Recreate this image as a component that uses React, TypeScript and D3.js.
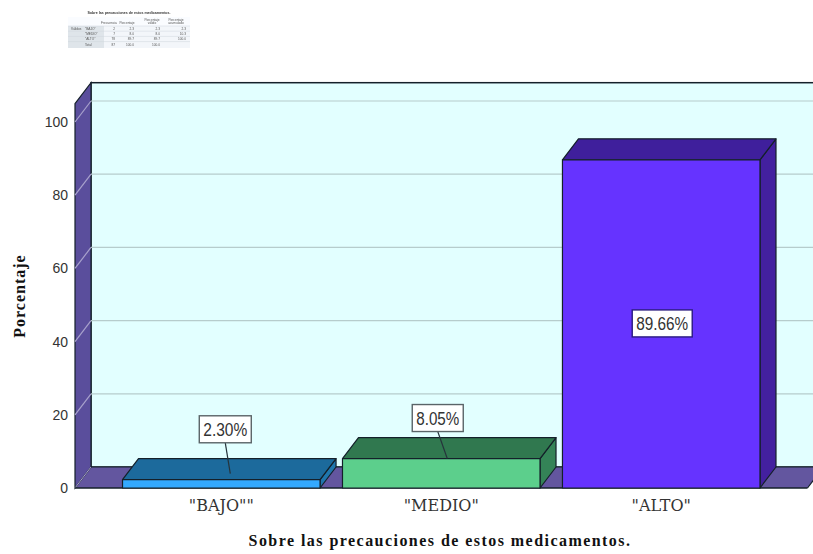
import React from "react";
import * as d3 from "d3";

// Frequency summary shown above the chart
const tableTitle = "Sobre las precauciones de estos medicamentos.";
const tableHeaders = [["Frecuencia"], ["Porcentaje"], ["Porcentaje", "válido"], ["Porcentaje", "acumulado"]];
const tableRows = ['"BAJO"', '"MEDIO"', '"ALTO"', "Total"];
const tableFrequency = ["2", "7", "78", "87"];
const tablePercent = ["2.3", "8.0", "89.7", "100.0"];
const tableValid = ["2.3", "8.0", "89.7", "100.0"];
const tableCumulative = ["2.3", "10.3", "100.0", ""];

// Chart series
const categories = ['"BAJO""', '"MEDIO"', '"ALTO"'];
const percentages = [2.3, 8.05, 89.66];
const percentLabels = ["2.30%", "8.05%", "89.66%"];
const yTicks = [0, 20, 40, 60, 80, 100];

const frontColors = ["#33a9ff", "#5ccf8c", "#6633ff"];
const topColors = ["#1c6a9c", "#30784f", "#3f1f9c"];
const sideColors = ["#1f76ad", "#348357", "#43209f"];

const WIDTH = 813;
const HEIGHT = 554;
const DX = 16;
const DY = -21;
const EDGE = "#14202a";

const y = d3.scaleLinear().domain([0, 100]).range([488, 122]);
const x = d3.scaleBand<string>().domain(categories).range([75, 807.5]).paddingInner(0.102).paddingOuter(0.216);

const pts = (p: [number, number][]) => p.map((q) => q.join(",")).join(" ");

function SummaryTable() {
  const left = 68;
  const top = 17;
  const rowH = 5.2;
  const colX = [109, 127, 152, 176];
  const valueX = [115, 134, 160, 186];
  const columns = [tableFrequency, tablePercent, tableValid, tableCumulative];
  const t = { fontFamily: "Liberation Sans", fontSize: 3.2, fill: "#555" };
  return (
    <g filter="url(#soft)">
      <rect x={left} y={top} width={122} height={31} fill="#fafcff" />
      <rect x={left} y={top + 9} width={36} height={22} fill="#dfe5ea" />
      <rect x={left + 36} y={top + 9} width={86} height={22} fill="#f3f6fa" />
      <text x={129} y={14} textAnchor="middle" style={{ ...t, fontWeight: 700, fill: "#333", fontSize: 3.6 }}>
        {tableTitle}
      </text>
      {tableHeaders.map((lines, i) =>
        lines.map((h, k) => (
          <text key={h + i} x={colX[i]} y={lines.length > 1 ? 20.5 + k * 3.6 : 24} textAnchor="middle" style={t}>
            {h}
          </text>
        ))
      )}
      <text x={71} y={top + 13} style={t}>Válidos</text>
      {tableRows.map((r, i) => (
        <g key={r}>
          <text x={85} y={top + 13 + i * rowH} style={t}>{r}</text>
          {columns.map((c, j) => (
            <text key={j} x={valueX[j]} y={top + 13 + i * rowH} textAnchor="end" style={t}>
              {c[i]}
            </text>
          ))}
          <line x1={left} x2={left + 122} y1={top + 9 + i * rowH} y2={top + 9 + i * rowH} stroke="#cfd6dc" strokeWidth={0.5} />
        </g>
      ))}
    </g>
  );
}

export default function App() {
  const y0 = y(0);
  const wallTop = y(105);
  const xLeft = x.range()[0];
  const xRight = x.range()[1];

  return (
    <svg
      width={WIDTH}
      height={HEIGHT}
      viewBox={`0 0 ${WIDTH} ${HEIGHT}`}
      style={{ position: "absolute", left: 0, top: 0, background: "#fff" }}
    >
      <defs>
        <filter id="soft" x="-5%" y="-5%" width="110%" height="110%">
          <feGaussianBlur stdDeviation="0.35" />
        </filter>
      </defs>

      <SummaryTable />

      {/* Back wall, side wall and floor */}
      <rect x={xLeft + DX} y={wallTop + DY} width={WIDTH} height={y0 - wallTop} fill="#e2ffff" stroke={EDGE} strokeWidth={1.5} />
      <polygon
        points={pts([[xLeft, y0], [xLeft + DX, y0 + DY], [xRight + DX, y0 + DY], [xRight, y0]])}
        fill="#63569f"
      />
      <polygon
        points={pts([[xLeft, wallTop], [xLeft + DX, wallTop + DY], [xLeft + DX, y0 + DY], [xLeft, y0]])}
        fill="#5a4e9c"
        stroke={EDGE}
        strokeWidth={1.2}
      />

      {/* Gridlines wrap from the side wall on to the back wall */}
      {yTicks.filter((t) => t > 0).map((t) => (
        <g key={t}>
          <line x1={xLeft + DX} x2={WIDTH} y1={y(t) + DY} y2={y(t) + DY} stroke="#b6cccc" strokeWidth={1.2} />
          <line x1={xLeft} x2={xLeft + DX} y1={y(t)} y2={y(t) + DY} stroke="#a8a2cc" strokeWidth={1.2} />
        </g>
      ))}
      <line x1={xLeft} x2={xLeft + DX} y1={y0} y2={y0 + DY} stroke="#a8a2cc" strokeWidth={1} />
      <line x1={xLeft + DX} x2={WIDTH} y1={y0 + DY} y2={y0 + DY} stroke={EDGE} strokeWidth={1} />
      <line x1={xLeft} x2={xRight} y1={y0} y2={y0} stroke={EDGE} strokeWidth={1.5} />
      <line x1={xRight} x2={xRight + DX} y1={y0} y2={y0 + DY} stroke={EDGE} strokeWidth={1.2} />

      {/* Extruded bars */}
      {categories.map((c, i) => {
        const x0 = x(c)!;
        const x1 = x0 + x.bandwidth();
        const yt = y(percentages[i]);
        return (
          <g key={c} stroke={EDGE} strokeWidth={1.2} strokeLinejoin="round">
            <polygon points={pts([[x1, y0], [x1 + DX, y0 + DY], [x1 + DX, yt + DY], [x1, yt]])} fill={sideColors[i]} />
            <polygon points={pts([[x0, yt], [x0 + DX, yt + DY], [x1 + DX, yt + DY], [x1, yt]])} fill={topColors[i]} />
            <rect x={x0} y={yt} width={x1 - x0} height={y0 - yt} fill={frontColors[i]} />
          </g>
        );
      })}

      {/* Value callouts: short bars get a leader line, the tall bar holds its label */}
      {categories.map((c, i) => {
        const mid = x(c)! + x.bandwidth() / 2;
        const yt = y(percentages[i]);
        const tall = percentages[i] > 50;
        const w = tall ? 60 : i === 0 ? 52 : 51;
        const h = 27;
        const cx = tall ? mid + 1 : i === 0 ? mid + 4 : mid - 3.5;
        const cy = tall ? (y0 + yt) / 2 - 0.5 : yt - (i === 0 ? 50.3 : 40.5);
        return (
          <g key={c}>
            {!tall && (
              <line
                x1={cx}
                y1={cy + h / 2}
                x2={i === 0 ? mid + 9 : mid + 6}
                y2={i === 0 ? yt - 6 : yt}
                stroke="#26343c"
                strokeWidth={1.2}
              />
            )}
            <rect
              x={cx - w / 2}
              y={cy - h / 2}
              width={w}
              height={h}
              fill="#fff"
              stroke={tall ? "#2a1a80" : "#5a6468"}
              strokeWidth={1.4}
            />
            <text
              x={cx}
              y={cy + 6.5}
              textAnchor="middle"
              style={{ fontFamily: "Liberation Sans", fontSize: 18, fill: "#333" }}
              textLength={w - 8}
              lengthAdjust="spacingAndGlyphs"
            >
              {percentLabels[i]}
            </text>
          </g>
        );
      })}

      {/* Value axis labels */}
      {yTicks.map((t) => (
        <text
          key={t}
          x={68}
          y={y(t) + 5}
          textAnchor="end"
          style={{ fontFamily: "Liberation Sans", fontSize: 14, fill: "#333" }}
        >
          {t}
        </text>
      ))}

      {/* Category labels */}
      {categories.map((c) => (
        <text
          key={c}
          x={x(c)! + x.bandwidth() / 2}
          y={511}
          textAnchor="middle"
          style={{ fontFamily: "DejaVu Serif", fontSize: 16, fill: "#333" }}
        >
          {c}
        </text>
      ))}

      {/* Axis titles */}
      <text
        transform="translate(25,296) rotate(-90)"
        textAnchor="middle"
        style={{ fontFamily: "Liberation Serif", fontWeight: 700, fontSize: 16, letterSpacing: 1, fill: "#111" }}
      >
        Porcentaje
      </text>
      <text
        x={440}
        y={546}
        textAnchor="middle"
        style={{ fontFamily: "Liberation Serif", fontWeight: 700, fontSize: 16, letterSpacing: 1.45, fill: "#111" }}
      >
        Sobre las precauciones de estos medicamentos.
      </text>
    </svg>
  );
}
